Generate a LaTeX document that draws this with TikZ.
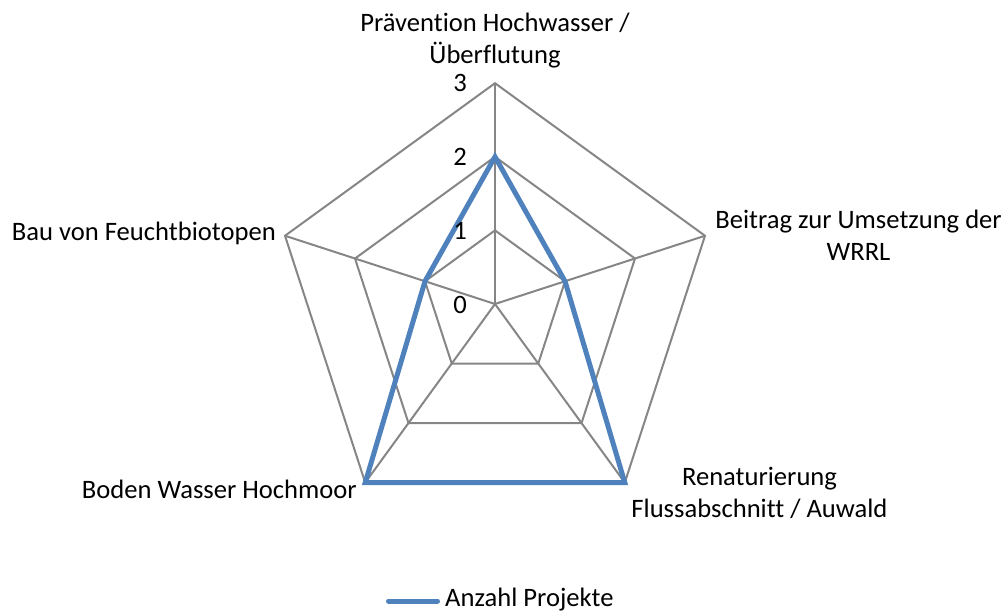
\documentclass[tikz,border=0pt]{standalone}
\usepackage{fontspec}
\setmainfont[Ligatures=NoCommon]{Carlito}
\usetikzlibrary{positioning}
\definecolor{gridgray}{RGB}{134,134,134}
\definecolor{seriesblue}{RGB}{79,129,189}

\begin{document}
\begin{tikzpicture}[x=1pt, y=1pt,
    gridline/.style={draw=gridgray, line width=2pt},
    series/.style={draw=seriesblue, line width=5pt, line join=miter},
    axislabel/.style={inner sep=0pt, align=center, font=\fontsize{26.6}{32}\selectfont},
    ticklabel/.style={inner sep=0pt, anchor=base east, font=\fontsize{26.6}{32}\selectfont}]
    \useasboundingbox (0,0) rectangle (1007,614);

    % Grid
    \begin{scope}[shift={(495,310)}]
        \foreach \r in {1,2,3}
            \draw[gridline] (90:\r*73.6) -- (18:\r*73.6) -- (-54:\r*73.6) -- (-126:\r*73.6) -- (162:\r*73.6) -- cycle;
        \coordinate (mid) at (0,0);
        \coordinate (ax1) at (90:220.8);
        \coordinate (ax2) at (18:220.8);
        \coordinate (ax3) at (-54:220.8);
        \coordinate (ax4) at (-126:220.8);
        \coordinate (ax5) at (162:220.8);
        \foreach \a in {ax1,ax2,ax3,ax4,ax5}
            \draw[gridline] (mid) -- (\a);

        % Data
        \draw[series] (90:147.2) -- (18:73.6) -- (-54:220.8) -- (-126:220.8) -- (162:73.6) -- cycle;
    \end{scope}

    % Scale
    \node[ticklabel] (t0) at (467,300) {0};
    \node[ticklabel] (t1) at (467,374) {1};
    \node[ticklabel] (t2) at (467,448) {2};
    \node[ticklabel] (t3) at (467,522) {3};

    % Axis labels
    \node[axislabel] (lab1) at (495,573) {Prävention Hochwasser /\\Überflutung};
    \node[axislabel] (lab2) at (858.5,379) {Beitrag zur Umsetzung der\\WRRL};
    \node[axislabel] (lab3) at (759.5,121) {Renaturierung\\Flussabschnitt / Auwald};
    \node[axislabel, anchor=base east] (lab4) at (357,116) {Boden Wasser Hochmoor};
    \node[axislabel, anchor=base east] (lab5) at (276,373.3) {Bau von Feuchtbiotopen};

    % Legend
    \coordinate (legA) at (388.5,13);
    \coordinate (legB) at (437.5,13);
    \node[axislabel, anchor=base west] (legtext) at (445,8) {Anzahl Projekte};
    \draw[series, line cap=round] (legA) -- (legB);
\end{tikzpicture}
\end{document}
